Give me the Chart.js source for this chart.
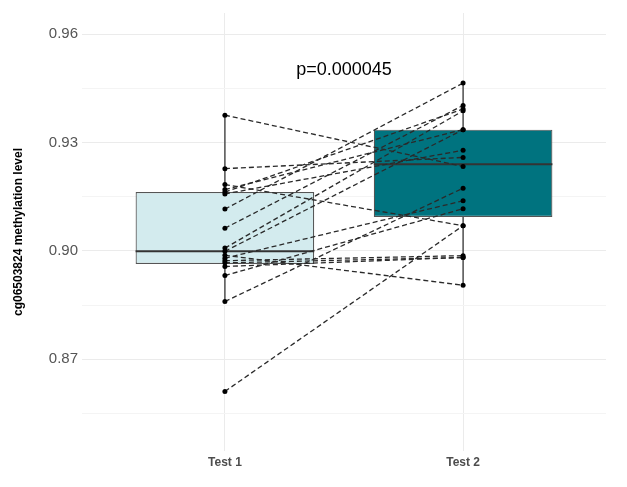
<!DOCTYPE html>
<html>
<head>
<meta charset="utf-8">
<title>cg06503824 methylation level</title>
<script src="https://cdn.jsdelivr.net/npm/chart.js@4.4.1/dist/chart.umd.min.js"></script>
<style>
  html, body { margin: 0; padding: 0; background: #fff; }
</style>
</head>
<body>
<canvas id="chart" width="627" height="487"></canvas>
<script>
// Groups and paired samples (same index = same subject)
const groups = ['Test 1', 'Test 2'];
const test1 = [0.9376, 0.9228, 0.9184, 0.9170, 0.9163, 0.9158, 0.9116, 0.9063, 0.9008,
               0.8999, 0.8988, 0.8980, 0.8973, 0.8967, 0.8957, 0.8932, 0.8860, 0.8611];
const test2 = [0.9234, 0.9259, 0.9070, 0.9336, 0.9393, 0.9279, 0.9465, 0.9403, 0.9388,
               0.9336, 0.8905, 0.9139, 0.8987, 0.8982, 0.8982, 0.9117, 0.9174, 0.9070];

// Box plot stats per group
const boxLow = [0.8964, 0.9094];
const boxMedian = [0.8999, 0.9240];
const boxHigh = [0.9163, 0.9336];
const whiskerLow = [0.8860, 0.8905];
const whiskerHigh = [0.9376, 0.9465];

const yTicks = [0.87, 0.90, 0.93, 0.96];
const pLabel = 'p=0.000045';
const boxColors = ['#d3ebee', '#00737f'];

Chart.defaults.font.family = '"Liberation Sans", Arial, sans-serif';

// whiskers + median lines, drawn right after the boxes
const boxParts = {
    id: 'boxParts',
    afterDatasetDraw(chart, args) {
        if (args.index !== 0) return;
        const { ctx, scales: { x, y } } = chart;
        const bars = args.meta.data;
        ctx.save();
        groups.forEach((g, i) => {
            const cx = x.getPixelForValue(i + 1);
            ctx.strokeStyle = '#444';
            ctx.lineWidth = 1.4;
            ctx.beginPath();
            ctx.moveTo(cx, y.getPixelForValue(whiskerHigh[i]));
            ctx.lineTo(cx, y.getPixelForValue(boxHigh[i]));
            ctx.moveTo(cx, y.getPixelForValue(boxLow[i]));
            ctx.lineTo(cx, y.getPixelForValue(whiskerLow[i]));
            ctx.stroke();

            const bar = bars[i];
            const my = y.getPixelForValue(boxMedian[i]);
            ctx.strokeStyle = '#333';
            ctx.lineWidth = 2;
            ctx.beginPath();
            ctx.moveTo(bar.x - bar.width / 2, my);
            ctx.lineTo(bar.x + bar.width / 2, my);
            ctx.stroke();
        });
        ctx.restore();
    },
    afterDraw(chart) {
        const { ctx, scales: { x, y } } = chart;
        ctx.save();
        ctx.font = '18px "Liberation Sans", Arial, sans-serif';
        ctx.fillStyle = '#000';
        ctx.textAlign = 'center';
        ctx.textBaseline = 'middle';
        ctx.fillText(pLabel, x.getPixelForValue(1.5), y.getPixelForValue(0.95));
        ctx.restore();
    }
};

const pairSets = test1.map((v, i) => ({
    type: 'line',
    data: [{ x: 1, y: v }, { x: 2, y: test2[i] }],
    borderColor: '#2a2a2a',
    borderWidth: 1.3,
    borderDash: [5, 3],
    pointRadius: 2.5,
    pointBackgroundColor: '#000',
    pointBorderWidth: 0,
    order: 0
}));

new Chart(document.getElementById('chart'), {
    type: 'bar',
    data: {
        datasets: [{
            type: 'bar',
            data: groups.map((g, i) => ({ x: i + 1, y: [boxLow[i], boxHigh[i]] })),
            backgroundColor: boxColors,
            borderColor: '#555',
            borderWidth: 1.2,
            borderSkipped: false,
            barPercentage: 0.75,
            categoryPercentage: 1,
            order: 10
        }, ...pairSets]
    },
    options: {
        responsive: false,
        animation: false,
        devicePixelRatio: 1,
        layout: { padding: { left: 0, right: 21, top: 11, bottom: 0 } },
        plugins: {
            legend: { display: false },
            tooltip: { enabled: false }
        },
        scales: {
            x: {
                type: 'linear',
                min: 0.4,
                max: 2.6,
                offset: false,
                afterBuildTicks: s => { s.ticks = groups.map((g, i) => ({ value: i + 1 })); },
                afterFit: s => { s.height = 36; },
                ticks: {
                    callback: v => groups[v - 1],
                    font: { size: 12, weight: 'bold' },
                    color: '#4d4d4d',
                    padding: 4,
                    autoSkip: false,
                    maxRotation: 0
                },
                grid: { color: '#ebebeb', drawTicks: false, offset: false },
                border: { display: false }
            },
            y: {
                min: 0.8446,
                max: 0.9659,
                afterFit: s => { s.width = 82; },
                ticks: {
                    stepSize: 0.015,
                    includeBounds: false,
                    callback: v => yTicks.some(t => Math.abs(t - v) < 1e-6) ? v.toFixed(2) : '',
                    font: { size: 15 },
                    color: '#555',
                    padding: 4
                },
                grid: {
                    color: c => yTicks.some(t => Math.abs(t - c.tick.value) < 1e-6) ? '#ebebeb' : '#f4f4f4',
                    drawTicks: false
                },
                border: { display: false },
                title: {
                    display: true,
                    text: 'cg06503824 methylation level',
                    font: { size: 12, weight: 'bold' },
                    color: '#000',
                    padding: { top: 11, bottom: 0 }
                }
            }
        }
    },
    plugins: [boxParts]
});
</script>
</body>
</html>
